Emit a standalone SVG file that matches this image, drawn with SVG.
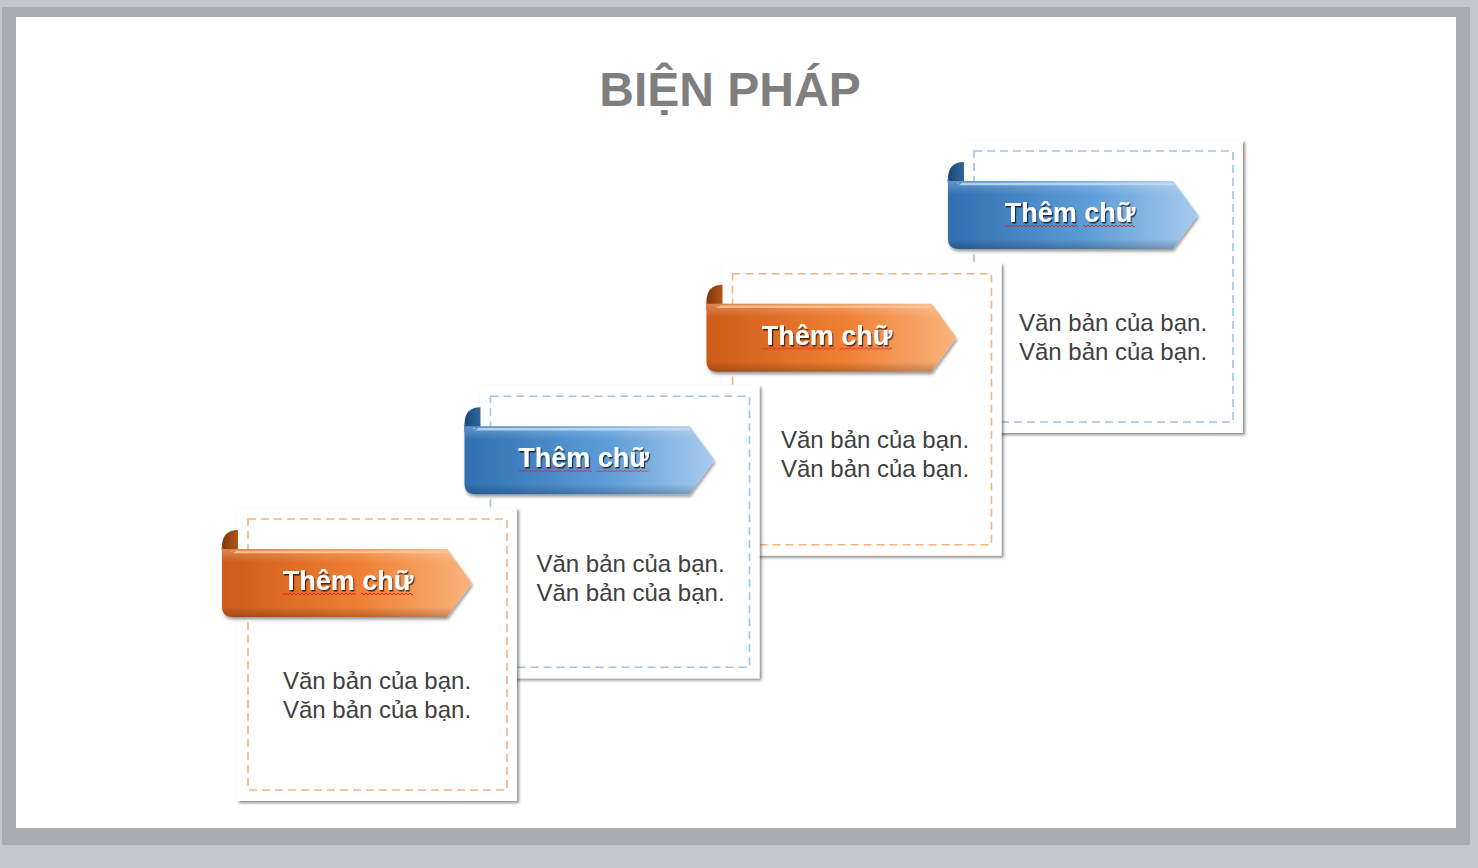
<svg xmlns="http://www.w3.org/2000/svg" width="1478" height="868" viewBox="0 0 1478 868">
<style>
.card{fill:#fff;filter:url(#cardShadow)}
.dash-o{fill:none;stroke:#f4b183;stroke-width:1.6;stroke-dasharray:8 5}
.dash-b{fill:none;stroke:#9dc3e6;stroke-width:1.6;stroke-dasharray:8 5}
.body{font-family:"Liberation Sans",Arial,sans-serif;font-size:24px;fill:#404040;text-anchor:middle}
.rtext{font-family:"Liberation Sans",Arial,sans-serif;font-size:27px;font-weight:bold;fill:#fff;text-anchor:middle;filter:url(#textShadow)}
.title{font-family:"Liberation Sans",Arial,sans-serif;font-size:48px;font-weight:bold;fill:#7f7f7f;text-anchor:middle}
.hl{fill:none;stroke-width:2.5;stroke-linecap:round}
</style>
<defs>
<filter id="cardShadow" x="-10%" y="-10%" width="120%" height="120%">
<feDropShadow dx="2" dy="2" stdDeviation="1.5" flood-color="#000" flood-opacity="0.45"/>
</filter>
<filter id="ribShadow" x="-10%" y="-20%" width="120%" height="150%">
<feDropShadow dx="1" dy="2.5" stdDeviation="1.5" flood-color="#000" flood-opacity="0.4"/>
</filter>
<filter id="textShadow" x="-10%" y="-20%" width="120%" height="150%">
<feDropShadow dx="1.2" dy="1.5" stdDeviation="0.7" flood-color="#000" flood-opacity="0.7"/>
</filter>
<linearGradient id="gO" x1="0" y1="0" x2="1" y2="0">
<stop offset="0" stop-color="#cc5c1a"/>
<stop offset="0.55" stop-color="#ef7f33"/>
<stop offset="1" stop-color="#fab47e"/>
</linearGradient>
<linearGradient id="gB" x1="0" y1="0" x2="1" y2="0">
<stop offset="0" stop-color="#2f6fb2"/>
<stop offset="0.55" stop-color="#5b9bd6"/>
<stop offset="1" stop-color="#a8cbee"/>
</linearGradient>
<linearGradient id="cO" x1="0" y1="0" x2="1" y2="0">
<stop offset="0" stop-color="#7e360c"/>
<stop offset="1" stop-color="#b5561a"/>
</linearGradient>
<linearGradient id="cB" x1="0" y1="0" x2="1" y2="0">
<stop offset="0" stop-color="#1c4670"/>
<stop offset="1" stop-color="#2e67a0"/>
</linearGradient>
<linearGradient id="shadeV" x1="0" y1="0" x2="0" y2="1">
<stop offset="0" stop-color="#fff" stop-opacity="0.25"/>
<stop offset="0.2" stop-color="#fff" stop-opacity="0"/>
<stop offset="0.85" stop-color="#000" stop-opacity="0"/>
<stop offset="1" stop-color="#000" stop-opacity="0.22"/>
</linearGradient>
<pattern id="squig" width="4" height="4" patternUnits="userSpaceOnUse">
<path d="M0,3 L2,1 L4,3" fill="none" stroke="#e02020" stroke-width="0.9"/>
</pattern>
<g id="ribO">
<path d="M0,17 Q0,0 16,0 L16,25 L0,25 Z" fill="url(#cO)"/>
<path d="M0,19 L225,19 L250,53 L225,87 L11,87 Q0,87 0,76 Z" fill="url(#gO)" filter="url(#ribShadow)"/>
<path d="M0,19 L225,19 L250,53 L225,87 L11,87 Q0,87 0,76 Z" fill="url(#shadeV)"/>
<path class="hl" d="M10,22 L224,22" stroke="#fcc797" stroke-opacity="0.85"/>
<path d="M0,17 Q0,28 13,21" fill="none" stroke="#e07a3a" stroke-width="1.5"/>
</g>
<g id="ribB">
<path d="M0,17 Q0,0 16,0 L16,25 L0,25 Z" fill="url(#cB)"/>
<path d="M0,19 L225,19 L250,53 L225,87 L11,87 Q0,87 0,76 Z" fill="url(#gB)" filter="url(#ribShadow)"/>
<path d="M0,19 L225,19 L250,53 L225,87 L11,87 Q0,87 0,76 Z" fill="url(#shadeV)"/>
<path class="hl" d="M10,22 L224,22" stroke="#bfdcf5" stroke-opacity="0.85"/>
<path d="M0,17 Q0,28 13,21" fill="none" stroke="#4f8cc9" stroke-width="1.5"/>
</g>
</defs>

<!-- background frame -->
<rect x="0" y="0" width="1478" height="868" fill="#c5c8cc"/>
<rect x="2" y="7" width="1468" height="838" fill="#a9adb1"/>
<rect x="16" y="17" width="1440" height="811" fill="#ffffff"/>

<text class="title" x="730" y="106">BIỆN PHÁP</text>

<g id="connectors"></g>

<g id="step4" transform="translate(726,-368)">
<rect class="card" x="237" y="508" width="280" height="293"/>
<rect class="dash-b" x="248" y="519" width="259" height="271"/>
<use href="#ribB" x="222" y="530"/>
<text class="rtext" x="344" y="590">Thêm chữ</text>
<rect x="279" y="591" width="73" height="4" fill="url(#squig)"/>
<rect x="357" y="591" width="52" height="4" fill="url(#squig)"/>
<text class="body" x="387" y="699">Văn bản của bạn.</text>
<text class="body" x="387" y="728">Văn bản của bạn.</text>
</g>

<g id="step3" transform="translate(484.5,-245.3)">
<rect class="card" x="237" y="508" width="280" height="293"/>
<rect class="dash-o" x="248" y="519" width="259" height="271"/>
<use href="#ribO" x="222" y="530"/>
<text class="rtext" x="342.5" y="590">Thêm chữ</text>
<rect x="277.5" y="591" width="73" height="4" fill="url(#squig)"/>
<rect x="355.5" y="591" width="52" height="4" fill="url(#squig)"/>
<text class="body" x="390.5" y="693.3">Văn bản của bạn.</text>
<text class="body" x="390.5" y="722.3">Văn bản của bạn.</text>
</g>

<g id="step2" transform="translate(242.5,-122.7)">
<rect class="card" x="237" y="508" width="280" height="293"/>
<rect class="dash-b" x="248" y="519" width="259" height="271"/>
<use href="#ribB" x="222" y="530"/>
<text class="rtext" x="341" y="590">Thêm chữ</text>
<rect x="276" y="591" width="73" height="4" fill="url(#squig)"/>
<rect x="354" y="591" width="52" height="4" fill="url(#squig)"/>
<text class="body" x="388" y="694.7">Văn bản của bạn.</text>
<text class="body" x="388" y="723.7">Văn bản của bạn.</text>
</g>

<g id="step1">
<rect class="card" x="237" y="508" width="280" height="293"/>
<rect class="dash-o" x="248" y="519" width="259" height="271"/>
<use href="#ribO" x="222" y="530"/>
<text class="rtext" x="348" y="590">Thêm chữ</text>
<rect x="283" y="591" width="73" height="4" fill="url(#squig)"/>
<rect x="361" y="591" width="52" height="4" fill="url(#squig)"/>
<text class="body" x="377" y="689">Văn bản của bạn.</text>
<text class="body" x="377" y="718">Văn bản của bạn.</text>
</g>
</svg>
